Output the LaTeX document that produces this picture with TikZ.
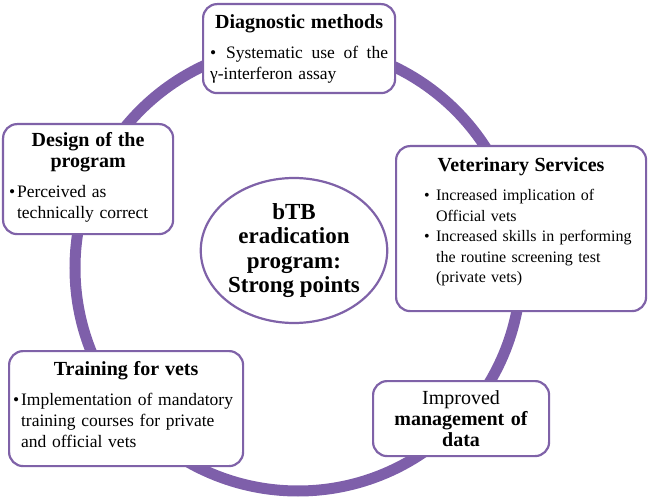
\documentclass[tikz,border=0pt]{standalone}
\usepackage{fontspec}
\setmainfont{Liberation Serif}
\usetikzlibrary{shapes.geometric}
\definecolor{boxc}{HTML}{7F62A8}
\definecolor{ringc}{HTML}{7E5FAA}
\setlength{\parindent}{0pt}
\hyphenpenalty=10000
\newcommand\wsp{\hskip 0pt plus 1fill\relax}
\newcommand\bul[3]{\par\noindent\hangindent=\dimexpr#1+#2\relax\hangafter=1\hspace*{#1}\makebox[#2][l]{\textbullet}#3\par}
\newcommand\ttl[1]{{\centering\fontsize{20}{21}\selectfont\bfseries #1\par}\vspace{9pt}}
\newcommand\tailsp[1]{\par\vspace{#1}\hrule height 0pt\relax}
\begin{document}
\begin{tikzpicture}[x=1pt,y=-1pt,
  box/.style={draw=boxc, line width=2.2pt, rounded corners=14pt, fill=white,
    anchor=north west, inner ysep=2pt, align=left,
    font=\fontsize{17.5}{21}\selectfont},
  ring/.style={draw=ringc, line width=11pt}]
\useasboundingbox (0,0) rectangle (649,503);
\coordinate (rc) at (298,268);
\draw[ring] (rc) circle[radius=223pt];

\node[box, inner xsep=7pt, text width=178pt, minimum width=192pt, minimum height=89pt] (diag) at (202,3)
  {\ttl{Diagnostic methods}\par\noindent\makebox[16pt][l]{\textbullet}Systematic\wsp use\wsp of\wsp the\newline γ-interferon assay\par};

\node[box, inner xsep=6pt, text width=158pt, minimum width=170pt, minimum height=110pt] (design) at (2,123)
  {\ttl{Design of the\\program}\bul{0pt}{8pt}{Perceived as\newline technically correct}\tailsp{3pt}};

\node[box, inner xsep=6pt, text width=238pt, minimum width=250pt, minimum height=165pt, font=\fontsize{16}{20.5}\selectfont] (vet) at (395,145)
  {\ttl{Veterinary Services}\bul{22pt}{12pt}{Increased implication of\newline Official vets}\bul{22pt}{12pt}{Increased skills in performing\newline the routine screening test\newline (private vets)}\tailsp{14pt}};

\node[box, inner xsep=4pt, text width=226pt, minimum width=234pt, minimum height=115pt] (train) at (8,350)
  {\ttl{Training for vets}\bul{0pt}{8pt}{Implementation of mandatory\newline training courses for private\newline and official vets}\tailsp{9pt}};

\node[box, align=center, inner xsep=6pt, text width=164pt, minimum width=176pt, minimum height=75pt, font=\fontsize{20}{21}\selectfont] (impr) at (372,380)
  {Improved\\\textbf{management of}\\\textbf{data}};

\node[draw=boxc, line width=2.2pt, ellipse, fill=white, minimum width=158pt, minimum height=145pt, inner sep=0pt, align=center, font=\fontsize{23}{24.5}\selectfont\bfseries] (core) at (294,250.5)
  {bTB\\eradication\\program:\\Strong points};
\end{tikzpicture}
\end{document}
